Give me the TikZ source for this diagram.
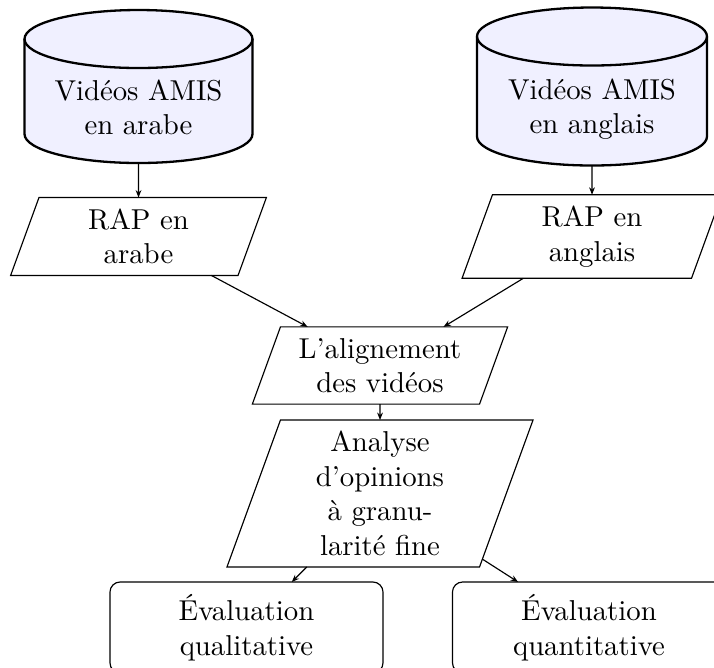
\documentclass[tikz,border=0pt]{standalone}
\usetikzlibrary{shapes.geometric,arrows.meta}
\begin{document}
\begin{tikzpicture}[x=0.3476pt,y=-0.3476pt,
  every node/.style={outer sep=0pt},
  para/.style={draw, line width=0.4pt, trapezium, trapezium left angle=70,
    trapezium right angle=110, text width=69.2pt, align=center,
    inner xsep=0pt, inner ysep=3.9pt},
  cylfill/.style={fill=blue!6, draw, line width=0.8pt},
  cylrim/.style={draw, line width=0.8pt},
  cyltext/.style={align=center, anchor=north, inner sep=0pt},
  evalbox/.style={draw, line width=0.4pt, rounded corners=3.5pt, minimum width=94.9pt,
    minimum height=31.6pt, align=center, inner sep=3.9pt, anchor=north},
  arr/.style={-{Stealth[length=2.6pt,width=2pt]}, line width=0.4pt},
  hold/.style={rectangle, inner sep=0pt}]

\useasboundingbox (0,0) rectangle (714,668);
\clip (0,0) rectangle (714,668);

% left cylinder
\node[hold, minimum width=79.25pt, minimum height=53.18pt] (c1) at (138.5,86.5) {};
\path[cylfill] (24.5,39) -- (24.5,134)
  arc[start angle=180, end angle=0, x radius=114, y radius=29]
  -- (252.5,39)
  arc[start angle=0, end angle=-180, x radius=114, y radius=29] -- cycle;
\path[cylrim] (24.5,39) arc[start angle=180, end angle=0, x radius=114, y radius=29];
\node[cyltext] (t1) at (138.5,79.5) {Vidéos AMIS\\en arabe};

% right cylinder
\node[hold, minimum width=79.95pt, minimum height=54.92pt] (c2) at (592,86.5) {};
\path[cylfill] (477,36.5) -- (477,136.5)
  arc[start angle=180, end angle=0, x radius=115, y radius=29]
  -- (707,36.5)
  arc[start angle=0, end angle=-180, x radius=115, y radius=29] -- cycle;
\path[cylrim] (477,36.5) arc[start angle=180, end angle=0, x radius=115, y radius=29];
\node[cyltext] (t2) at (592,78.5) {Vidéos AMIS\\en anglais};

% process steps
\node[para] (r1) at (138.5,236.5) {RAP en\\arabe};
\node[para] (r2) at (592,236.5) {RAP en\\anglais};
\node[para] (al) at (380,365.5) {L’alignement\\des vidéos};
\node[para] (an) at (380,493.5) {Analyse\\d’opinions\\à granu-\\larité fine};

% evaluations
\node[evalbox] (ev1) at (246.5,582) {Évaluation\\qualitative};
\node[evalbox] (ev2) at (589,582) {Évaluation\\quantitative};

% connectors
\draw[arr] (c1) -- (r1);
\draw[arr] (c2) -- (r2);
\draw[arr] (r1) -- (al);
\draw[arr] (r2) -- (al);
\draw[arr] (al) -- (an);
\draw[arr] (an) -- (ev1);
\draw[arr] (an) -- (ev2);
\end{tikzpicture}
\end{document}
